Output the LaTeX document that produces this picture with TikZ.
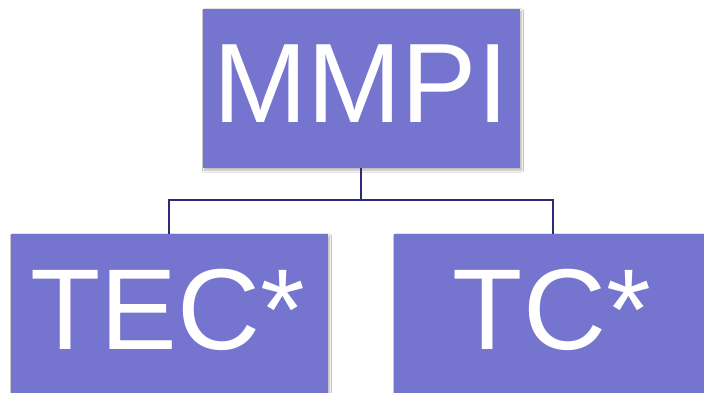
\documentclass[tikz,border=0pt]{standalone}
\usepackage{fontspec}
\setmainfont{Liberation Sans}
\usetikzlibrary{shadows.blur}
\definecolor{boxfill}{RGB}{117,117,208}
\definecolor{linkcol}{RGB}{43,43,122}
\begin{document}
\begin{tikzpicture}[x=1pt,y=-1pt,
  box/.style={fill=boxfill,draw=none,blur shadow={shadow xshift=1.5pt,shadow yshift=-2pt,shadow blur steps=6,shadow opacity=30}},
  label/.style={text=white,anchor=base,inner sep=0pt},
  link/.style={draw=linkcol,line width=1.5pt}]
\useasboundingbox (0,0) rectangle (704,393);
\fill[white] (0,0) rectangle (704,393);
% boxes
\path[box] (203,9) rectangle (520,168);
\path[box] (11,234) rectangle (328,400);
\path[box] (394,234) rectangle (710,400);
\coordinate (top) at (361,168);
\coordinate (mid) at (361,200);
\coordinate (l) at (169,234);
\coordinate (r) at (553,234);
\draw[link] (top) -- (mid);
\draw[link] (l) |- (mid) -| (r);
\node[label,font=\fontsize{113}{113}\selectfont] (mmpi) at (361,123) {MMPI};
\node[label,font=\fontsize{115}{115}\selectfont] (tec) at (168,349) {TEC*};
\node[label,font=\fontsize{115}{115}\selectfont] (tc) at (552,349) {TC*};
\end{tikzpicture}
\end{document}
